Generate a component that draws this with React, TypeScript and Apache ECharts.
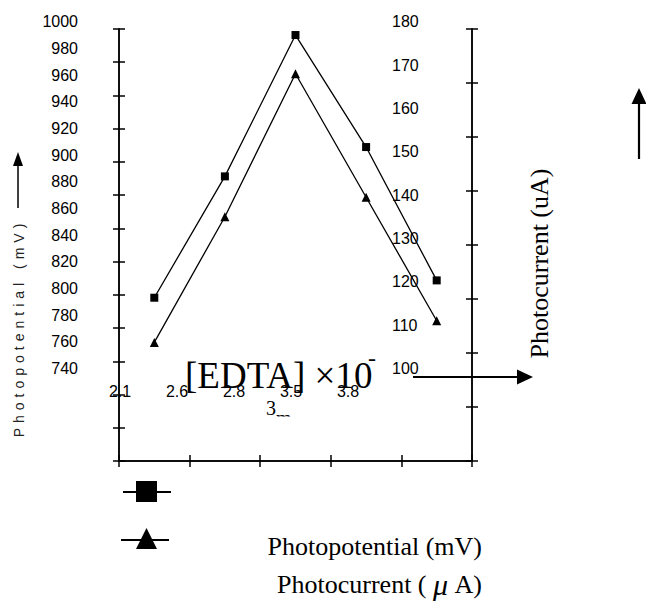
import React, { useEffect, useRef } from 'react';
import * as echarts from 'echarts';

// ---- data ----
const concentrations = ['2.1', '2.6', '2.8', '3.5', '3.8'];
const photopotential = [793, 884, 990, 906, 806]; // mV (squares)
const photocurrent = [106, 135, 168, 139.5, 111]; // uA (triangles)
const potentialMin = 740;
const potentialMax = 1000;
const potentialStep = 20;
const currentMin = 100;
const currentMax = 180;
const currentStep = 10;
const leftFrameTicks = 13;
const rightFrameTicks = 8;

const SANS = '"Liberation Sans", Arial, sans-serif';
const SERIF = '"Liberation Serif", "Times New Roman", serif';
const BLACK = '#000';

function frameAxisY(gridIndex: number, position: 'left' | 'right', max: number, inside: boolean) {
  return {
    type: 'value',
    gridIndex,
    position,
    min: 0,
    max,
    interval: 1,
    axisLine: { show: true, lineStyle: { color: BLACK, width: 1.5 } },
    axisTick: { show: true, inside, length: 6, lineStyle: { color: BLACK, width: 1.5 } },
    axisLabel: { show: false },
    splitLine: { show: false },
  };
}

function frameAxisX(gridIndex: number, inside: boolean) {
  return {
    type: 'category',
    gridIndex,
    position: 'bottom',
    data: concentrations,
    boundaryGap: true,
    axisLine: { show: true, lineStyle: { color: BLACK, width: 1.5 } },
    axisTick: { show: true, inside, length: 6, lineStyle: { color: BLACK, width: 1.5 } },
    axisLabel: { show: false },
    splitLine: { show: false },
  };
}

export default function App() {
  const ref = useRef<HTMLDivElement>(null);

  useEffect(() => {
    if (!ref.current) return;
    const chart = echarts.init(ref.current, undefined, { renderer: 'svg' });

    const option: any = {
      animation: false,
      backgroundColor: '#fff',
      grid: [
        { left: 119, top: 29, width: 353, height: 432 }, // 0 frame (outer ticks)
        { left: 119, top: 21.7, width: 353, height: 346.7 }, // 1 plot / labels
        { left: 91.5, top: 300, width: 285, height: 75 }, // 2 x labels
        { left: 119, top: 29, width: 353, height: 432 }, // 3 frame (inner ticks)
      ],
      xAxis: [
        frameAxisX(0, false),
        frameAxisX(3, true),
        { type: 'category', gridIndex: 1, data: concentrations, boundaryGap: true, show: false },
        {
          type: 'category',
          gridIndex: 2,
          data: concentrations,
          boundaryGap: true,
          axisLine: { show: false },
          axisTick: { show: false },
          axisLabel: { fontSize: 16, color: BLACK, fontFamily: SANS, margin: 8 },
        },
      ],
      yAxis: [
        frameAxisY(0, 'left', leftFrameTicks, false),
        frameAxisY(0, 'right', rightFrameTicks, false),
        frameAxisY(3, 'left', leftFrameTicks, true),
        frameAxisY(3, 'right', rightFrameTicks, true),
        {
          type: 'value',
          gridIndex: 1,
          position: 'left',
          min: potentialMin,
          max: potentialMax,
          interval: potentialStep,
          axisLine: { show: false },
          axisTick: { show: false },
          splitLine: { show: false },
          axisLabel: {
            fontSize: 16,
            color: BLACK,
            fontFamily: SANS,
            margin: 41,
            formatter: (v: number) => String(v),
          },
        },
        {
          type: 'value',
          gridIndex: 1,
          position: 'right',
          offset: -80,
          min: currentMin,
          max: currentMax,
          interval: currentStep,
          axisLine: { show: false },
          axisTick: { show: false },
          splitLine: { show: false },
          axisLabel: {
            fontSize: 16,
            color: BLACK,
            fontFamily: SANS,
            margin: 0,
            formatter: (v: number) => String(v),
          },
        },
        { type: 'value', gridIndex: 2, show: false },
      ],
      series: [
        {
          name: 'Photopotential (mV)',
          type: 'line',
          xAxisIndex: 2,
          yAxisIndex: 4,
          data: photopotential,
          symbol: 'rect',
          symbolSize: 8,
          clip: false,
          lineStyle: { color: BLACK, width: 1.3 },
          itemStyle: { color: BLACK },
          z: 5,
        },
        {
          name: 'Photocurrent (uA)',
          type: 'line',
          xAxisIndex: 2,
          yAxisIndex: 5,
          data: photocurrent,
          symbol: 'triangle',
          symbolSize: 9,
          clip: false,
          lineStyle: { color: BLACK, width: 1.3 },
          itemStyle: { color: BLACK },
          z: 5,
        },
      ],
      graphic: [
        // left axis title (rotated, letter spaced)
        {
          type: 'text',
          x: 19,
          y: 328,
          rotation: Math.PI / 2,
          style: {
            text: 'Photopotential (mV)',
            fontSize: 14,
            fontFamily: SANS,
            fill: '#222',
            align: 'center',
            verticalAlign: 'middle',
            textAlign: 'center',
            textVerticalAlign: 'middle',
          },
        },
        // left arrow
        { type: 'line', shape: { x1: 18, y1: 208, x2: 18, y2: 163 }, style: { stroke: BLACK, lineWidth: 1.5 } },
        { type: 'polygon', shape: { points: [[18, 152], [13, 166], [23, 166]] }, style: { fill: BLACK } },
        // right axis title
        {
          type: 'text',
          x: 539,
          y: 263.5,
          rotation: Math.PI / 2,
          style: {
            text: 'Photocurrent (uA)',
            fontSize: 26,
            fontFamily: SERIF,
            fill: BLACK,
            align: 'center',
            verticalAlign: 'middle',
            textAlign: 'center',
            textVerticalAlign: 'middle',
          },
        },
        // right vertical arrow
        { type: 'line', shape: { x1: 639, y1: 159, x2: 639, y2: 101 }, style: { stroke: BLACK, lineWidth: 2.2 } },
        { type: 'polygon', shape: { points: [[639, 88], [631.5, 104], [646.5, 104]] }, style: { fill: BLACK } },
        // horizontal arrow
        { type: 'line', shape: { x1: 413, y1: 377, x2: 520, y2: 377 }, style: { stroke: BLACK, lineWidth: 2.2 } },
        { type: 'polygon', shape: { points: [[533, 377], [517, 369.5], [517, 384.5]] }, style: { fill: BLACK } },
        // x axis title
        {
          type: 'text',
          x: 185,
          y: 375,
          z: -1,
          style: {
            text: '[EDTA] ×10',
            fontSize: 37,
            fontFamily: SERIF,
            fill: BLACK,
            align: 'left',
            verticalAlign: 'middle',
            textAlign: 'left',
            textVerticalAlign: 'middle',
          },
        },
        {
          type: 'text',
          x: 368,
          y: 358,
          z: -1,
          style: {
            text: '-',
            fontSize: 24,
            fontFamily: SERIF,
            fill: BLACK,
            align: 'left',
            verticalAlign: 'middle',
            textAlign: 'left',
            textVerticalAlign: 'middle',
          },
        },
        {
          type: 'text',
          x: 266,
          y: 408,
          style: {
            text: '3',
            fontSize: 20,
            fontFamily: SERIF,
            fill: BLACK,
            align: 'left',
            verticalAlign: 'middle',
            textAlign: 'left',
            textVerticalAlign: 'middle',
          },
        },
        {
          type: 'text',
          x: 276,
          y: 418,
          style: {
            text: 'm',
            fontSize: 20,
            fontFamily: SERIF,
            fill: BLACK,
            align: 'left',
            verticalAlign: 'middle',
            textAlign: 'left',
            textVerticalAlign: 'middle',
          },
        },
        { type: 'rect', shape: { x: 272, y: 416.5, width: 32, height: 16 }, style: { fill: '#fff' } },
        // legend markers
        { type: 'line', shape: { x1: 123, y1: 492, x2: 171, y2: 492 }, style: { stroke: BLACK, lineWidth: 2 } },
        { type: 'rect', shape: { x: 136, y: 481, width: 21, height: 21 }, style: { fill: BLACK } },
        { type: 'line', shape: { x1: 121, y1: 540, x2: 169, y2: 540 }, style: { stroke: BLACK, lineWidth: 2 } },
        { type: 'polygon', shape: { points: [[146.5, 528], [136, 549], [157, 549]] }, style: { fill: BLACK } },
        // legend texts
        {
          type: 'text',
          x: 482,
          y: 546,
          style: {
            text: 'Photopotential (mV)',
            fontSize: 26,
            fontFamily: SERIF,
            fill: BLACK,
            align: 'right',
            verticalAlign: 'middle',
            textAlign: 'right',
            textVerticalAlign: 'middle',
          },
        },
        {
          type: 'text',
          x: 482,
          y: 584,
          style: {
            text: 'Photocurrent ( {mu|μ} A)',
            fontSize: 26,
            fontFamily: SERIF,
            fill: BLACK,
            align: 'right',
            verticalAlign: 'middle',
            textAlign: 'right',
            textVerticalAlign: 'middle',
            rich: {
              mu: { fontSize: 30, fontStyle: 'italic', fontFamily: SERIF, fill: BLACK },
            },
          },
        },
      ],
    };

    chart.setOption(option);

    // letter spacing for the left axis title, as in the reference
    const texts = ref.current.querySelectorAll('text');
    texts.forEach((t) => {
      if (t.textContent === 'Photopotential (mV)' && t.outerHTML.includes('14px')) {
        t.setAttribute('letter-spacing', '5');
      }
    });

    return () => chart.dispose();
  }, []);

  return (
    <div
      ref={ref}
      style={{ position: 'absolute', left: 0, top: 0, width: 646, height: 601, background: '#fff' }}
    />
  );
}
